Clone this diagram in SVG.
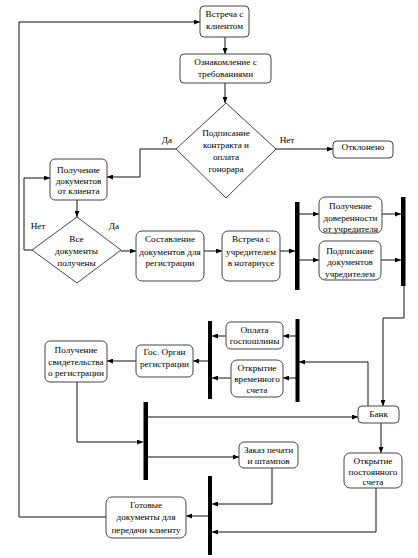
<svg xmlns="http://www.w3.org/2000/svg" width="418" height="558" viewBox="0 0 418 558">
<defs>
<marker id="ah" markerWidth="6" markerHeight="5" refX="6" refY="2.5" orient="auto" markerUnits="userSpaceOnUse">
<path d="M0,0 L6,2.5 L0,5 z" fill="#000"/>
</marker>
<style>
.n rect,.n polygon{fill:#fff;stroke:#444;stroke-width:1}
.bar{fill:#000}
text{font-family:'Liberation Serif','Times New Roman',serif;font-size:9.2px;fill:#000;text-anchor:middle}
.c path{fill:none;stroke:#111;stroke-width:1}
.c .a{marker-end:url(#ah)}
</style>
</defs>
<rect width="418" height="558" fill="#fff"/>
<g class="c" id="connectors">
<path class="a" d="M225,37 V54"/>
<path class="a" d="M225,83 V103"/>
<path class="a" d="M176,149 H140 V177 H107"/>
<path class="a" d="M276,149 H333"/>
<path class="a" d="M77,200 V217"/>
<path class="a" d="M32,250 H24 V178 H50"/>
<path class="a" d="M121,251 H136"/>
<path class="a" d="M204,251 H222"/>
<path class="a" d="M280,251 H295"/>
<path class="a" d="M299,214 H319"/>
<path class="a" d="M299,260 H319"/>
<path class="a" d="M382,214 H401"/>
<path class="a" d="M381,260 H401"/>
<path class="a" d="M404,286 V318 H383 V406"/>
<path class="a" d="M368,406 V362 H299"/>
<path class="a" d="M296,336 H283"/>
<path class="a" d="M296,378 H283"/>
<path class="a" d="M226,336 H212"/>
<path class="a" d="M231,378 H212"/>
<path class="a" d="M208,361 H193"/>
<path class="a" d="M136,361 H107"/>
<path class="a" d="M77,382 V442 H143"/>
<path class="a" d="M148,417 H358"/>
<path class="a" d="M148,457 H239"/>
<path class="a" d="M381,423 V453"/>
<path class="a" d="M272,468 V504 H212"/>
<path class="a" d="M376,488 V532 H212"/>
<path class="a" d="M208,516 H186"/>
<path class="a" d="M106,517 H19 V22 H200"/>
</g>
<g id="labels">
<text x="167" y="143">Да</text>
<text x="287" y="143">Нет</text>
<text x="38" y="229">Нет</text>
<text x="114" y="229">Да</text>
</g>
<g id="bars">
<rect id="bar1" class="bar" x="295" y="202" width="4.5" height="88"/>
<rect id="bar2" class="bar" x="401" y="197" width="4.5" height="89"/>
<rect id="bar3" class="bar" x="295.5" y="319" width="4" height="83"/>
<rect id="bar4" class="bar" x="208" y="321" width="4" height="78"/>
<rect id="bar5" class="bar" x="143.5" y="402" width="4.5" height="78"/>
<rect id="bar6" class="bar" x="208" y="476" width="4" height="79"/>
</g>
<g class="n" id="n1"><rect x="200" y="6" width="49" height="31" rx="4"/><text x="224.5" y="17">Встреча с</text><text x="224.5" y="28.5">клиентом</text></g>
<g class="n" id="n2"><rect x="180" y="54" width="91" height="29" rx="4"/><text x="225.5" y="65">Ознакомление с</text><text x="225.5" y="77">требованиями</text></g>
<g class="n" id="d1"><polygon points="226,103 276,149 226,198 176,149"/><text x="226" y="135.5">Подписание</text><text x="226" y="147.5">контракта и</text><text x="226" y="159.5">оплата</text><text x="226" y="171.5">гонорара</text></g>
<g class="n" id="n3"><rect x="333" y="141" width="60" height="17" rx="4"/><text x="363" y="149.5">Отклонено</text></g>
<g class="n" id="n4"><rect x="50" y="159" width="57" height="41" rx="5"/><text x="78.5" y="173">Получение</text><text x="78.5" y="183.5">документов</text><text x="78.5" y="194">от клиента</text></g>
<g class="n" id="d2"><polygon points="77,217 121,250 77,283 32,250"/><text x="76.5" y="241.5">Все</text><text x="76.5" y="254">документы</text><text x="76.5" y="266">получены</text></g>
<g class="n" id="n5"><rect x="136" y="231" width="68" height="50" rx="6"/><text x="170" y="242">Составление</text><text x="170" y="254.5">документов для</text><text x="170" y="266">регистрации</text></g>
<g class="n" id="n6"><rect x="222" y="231" width="58" height="50" rx="6"/><text x="251" y="242">Встреча с</text><text x="251" y="254.5">учредителем</text><text x="251" y="266">в нотариусе</text></g>
<g class="n" id="n7"><rect x="319" y="197" width="63" height="36" rx="6"/><text x="350.5" y="208.5">Получение</text><text x="350.5" y="220.5">доверенности</text><text x="350.5" y="232">от учредителя</text></g>
<g class="n" id="n8"><rect x="319" y="241" width="62" height="39" rx="6"/><text x="350" y="253.5">Подписание</text><text x="350" y="265">документов</text><text x="350" y="276.5">учредителем</text></g>
<g class="n" id="n9"><rect x="226" y="322" width="57" height="27" rx="5"/><text x="254.5" y="332.5">Оплата</text><text x="254.5" y="344">госпошлины</text></g>
<g class="n" id="n10"><rect x="231" y="360" width="52" height="37" rx="6"/><text x="257" y="370.5">Открытие</text><text x="257" y="382">временного</text><text x="257" y="393">счета</text></g>
<g class="n" id="n11"><rect x="136" y="345" width="57" height="32" rx="5"/><text x="164.5" y="355">Гос. Орган</text><text x="164.5" y="367">регистрации</text></g>
<g class="n" id="n12"><rect x="45" y="341" width="62" height="41" rx="5"/><text x="76" y="353">Получение</text><text x="76" y="364.5">свидетельства</text><text x="76" y="375.5">о регистрации</text></g>
<g class="n" id="n13"><rect x="358" y="406" width="41" height="17" rx="4"/><text x="378.5" y="416.5">Банк</text></g>
<g class="n" id="n14"><rect x="239" y="442" width="59" height="26" rx="5"/><text x="268.5" y="453">Заказ печати</text><text x="268.5" y="463.5">и штампов</text></g>
<g class="n" id="n15"><rect x="344" y="453" width="58" height="35" rx="6"/><text x="373" y="464">Открытие</text><text x="373" y="475">постоянного</text><text x="373" y="485">счета</text></g>
<g class="n" id="n16"><rect x="106" y="497" width="80" height="41" rx="6"/><text x="146" y="508">Готовые</text><text x="146" y="520">документы для</text><text x="146" y="532.5">передачи клиенту</text></g>
</svg>
